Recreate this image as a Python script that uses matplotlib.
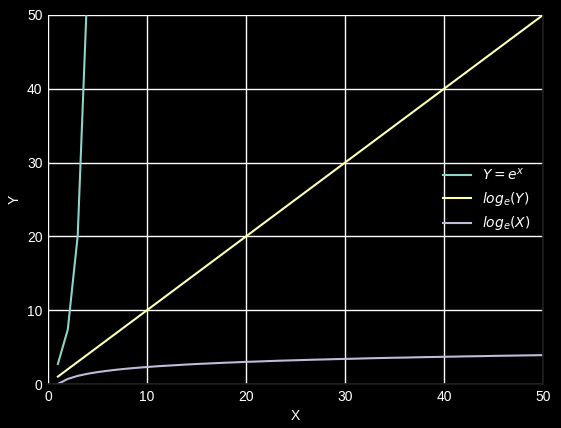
import matplotlib
matplotlib.use("Agg")
import matplotlib.pyplot as plt

# data
x_exp = [1, 2, 3, 4, 5]
y_exp = [2.72, 7.39, 20.09, 54.60, 148.41]

x_lin = [1, 10, 20, 30, 40, 50]
y_lin = [1, 10, 20, 30, 40, 50]

x_log = list(range(1, 51))
y_log = [0.00, 0.69, 1.10, 1.39, 1.61, 1.79, 1.95, 2.08, 2.20, 2.30,
         2.40, 2.48, 2.56, 2.64, 2.71, 2.77, 2.83, 2.89, 2.94, 3.00,
         3.04, 3.09, 3.14, 3.18, 3.22, 3.26, 3.30, 3.33, 3.37, 3.40,
         3.43, 3.47, 3.50, 3.53, 3.56, 3.58, 3.61, 3.64, 3.66, 3.69,
         3.71, 3.74, 3.76, 3.78, 3.81, 3.83, 3.85, 3.87, 3.89, 3.91]

ticks = [0, 10, 20, 30, 40, 50]

plt.rcParams['font.family'] = ['Liberation Sans', 'DejaVu Sans']

fig = plt.figure(figsize=(5.61, 4.28), dpi=100, facecolor='black')
ax = fig.add_axes([48/561, 1 - 384/428, (543-48)/561, (384-15)/428])
ax.set_facecolor('black')

ax.plot(x_exp, y_exp, color='#8dd3c7', lw=1.5, label=r'$Y = e^x$')
ax.plot(x_lin, y_lin, color='#feffb3', lw=1.5, label=r'$log_e(Y)$')
ax.plot(x_log, y_log, color='#bfbbd9', lw=1.5, label=r'$log_e(X)$')

ax.set_xlim(0, 50)
ax.set_ylim(0, 50)
ax.set_xticks(ticks)
ax.set_yticks(ticks)
ax.grid(True, color='white', lw=1)
ax.set_axisbelow(True)
ax.spines['left'].set_visible(False)
ax.spines['top'].set_visible(False)
for side in ('right', 'bottom'):
    ax.spines[side].set_color('#1c1c1c')
    ax.spines[side].set_linewidth(1.2)
    ax.spines[side].set_zorder(2.5)
ax.tick_params(colors='white', labelsize=10, length=0, pad=4)
ax.set_xlabel('X', color='white', fontsize=10)
ax.set_ylabel('Y', color='white', fontsize=10)

leg = ax.legend(loc='center right', frameon=False, fontsize=10, labelcolor='white')

fig.savefig('out.png', dpi=100, facecolor='black')
